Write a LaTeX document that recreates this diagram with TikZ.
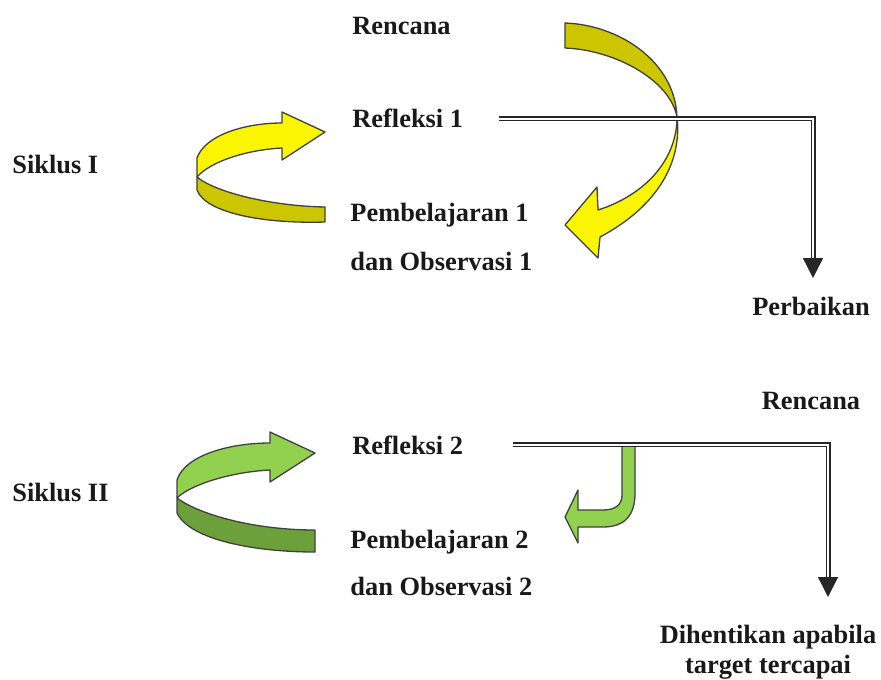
\documentclass[tikz,border=0pt]{standalone}
\usepackage{fontspec}
\setmainfont{Liberation Serif}
\usetikzlibrary{arrows.meta, positioning}
\definecolor{RibbonYellow}{RGB}{250,245,0}
\definecolor{RibbonYellowBack}{RGB}{204,198,0}
\definecolor{RibbonGreen}{RGB}{146,208,80}
\definecolor{RibbonGreenBack}{RGB}{108,160,58}
\colorlet{ColourText}{black!90}
\tikzset{
  stage text/.style={
    font=\fontsize{13.2}{15}\selectfont\bfseries,
    text=ColourText,
    inner sep=0pt,
    anchor=base west
  },
  flow line/.style={
    draw=black!85,
    double=white,
    double distance=1.1pt,
    line width=0.7pt,
    -{Triangle[length=10pt,width=10pt]}
  },
  ribbon/.style={
    fill=#1,
    draw=black!75,
    line width=0.65pt,
    line join=round
  },
}

\begin{document}
\begin{tikzpicture}[x=0.5pt,y=-0.5pt]
  \useasboundingbox (0,0) rectangle (881,679);

  % cycle I
  \node[stage text] (renc1) at (352,35) {Rencana};
  \node[stage text] (ref1) at (352,128) {Refleksi 1};
  \node[stage text] (sik1) at (12,173) {Siklus I};
  \node[stage text] (pemb1) at (350,221) {Pembelajaran 1};
  \node[stage text] (obs1) at ([yshift=-24.5pt]pemb1.base west) {dan Observasi 1};
  \node[stage text, anchor=base] (perb) at (811,315) {Perbaikan};

  % cycle II
  \node[stage text, anchor=base] (renc2) at (811,409) {Rencana};
  \node[stage text] (ref2) at (352,454) {Refleksi 2};
  \node[stage text] (sik2) at (12,501) {Siklus II};
  \node[stage text] (pemb2) at (350,548) {Pembelajaran 2};
  \node[stage text] (obs2) at ([yshift=-23.5pt]pemb2.base west) {dan Observasi 2};
  \node[stage text, anchor=base] (stop1) at (768,643) {Dihentikan apabila};
  \node[stage text, anchor=base] (stop2) at ([yshift=-15pt]stop1.base) {target tercapai};

  % ribbon arrows
  \path[ribbon=RibbonYellowBack] (565,23) .. controls (620,25) and (675,62) .. (677,117)
    .. controls (670,80) and (615,50) .. (565,48) -- cycle;
  \path[ribbon=RibbonYellow] (677,117) .. controls (682,160) and (660,205) .. (600,237)
    -- (598,258) -- (565,225) -- (597,187) -- (598,210)
    .. controls (645,195) and (677,160) .. (677,117) -- cycle;

  \path[ribbon=RibbonYellowBack] (197,177) .. controls (215,192) and (270,206) .. (325,207)
    -- (325,222) .. controls (260,224) and (205,212) .. (197,190) -- cycle;
  \path[ribbon=RibbonYellow] (197,177) -- (197,158) .. controls (205,135) and (245,123) .. (282,123)
    -- (282,112) -- (325,132) -- (282,160) -- (282,148)
    .. controls (245,150) and (210,162) .. (197,177) -- cycle;

  \path[ribbon=RibbonGreenBack] (177,498) .. controls (200,515) and (255,530) .. (315,530)
    -- (315,552) .. controls (255,552) and (190,540) .. (177,513) -- cycle;
  \path[ribbon=RibbonGreen] (177,498) -- (177,480) .. controls (185,455) and (230,443) .. (270,443)
    -- (270,432) -- (315,453) -- (270,482) -- (270,470)
    .. controls (230,472) and (190,485) .. (177,498) -- cycle;

  \path[ribbon=RibbonGreen] (622,444) -- (635,444) -- (635,493)
    .. controls (635,515) and (625,527) .. (603,527) -- (578,527) -- (578,543)
    -- (565,517) -- (578,490) -- (578,510) -- (603,510)
    .. controls (615,510) and (622,505) .. (622,495) -- cycle;

  % connectors
  \coordinate (perb tip) at (813,278);
  \coordinate (stop tip) at (828,597);
  \draw[flow line] ([xshift=17.5pt]ref1.east) -| (perb tip);
  \draw[flow line] ([xshift=24.5pt]ref2.east) -| (stop tip);
\end{tikzpicture}
\end{document}
